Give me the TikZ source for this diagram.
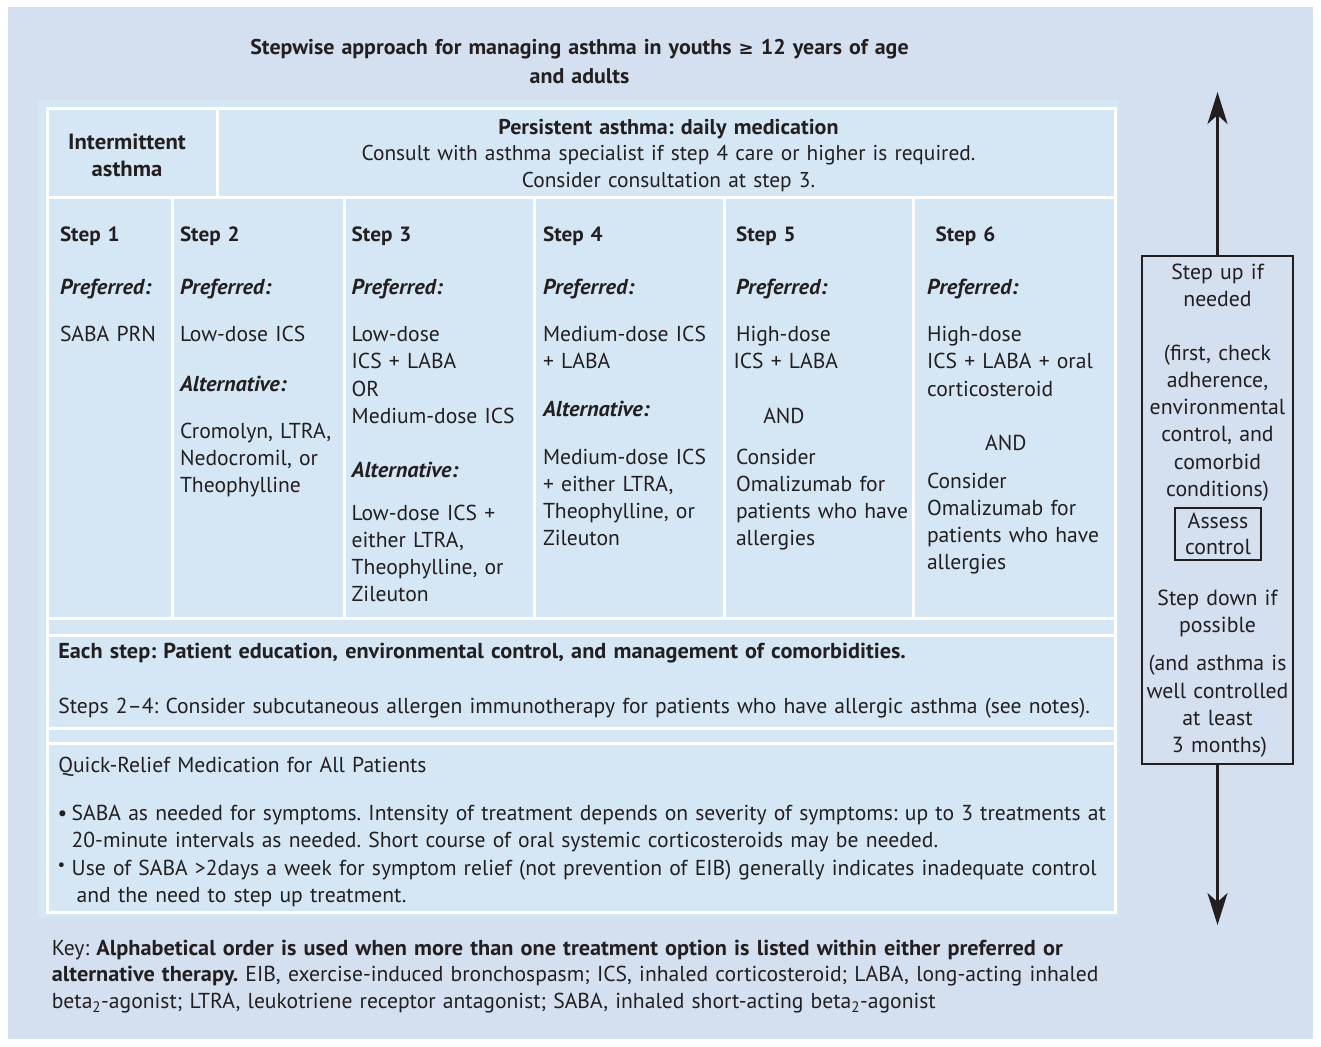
\documentclass[tikz,border=0pt]{standalone}
\usepackage{fontspec}
\setmainfont{PT Sans}[BoldFeatures={FakeStretch=1.03}, BoldItalicFeatures={FakeStretch=1.03}]
\newfontfamily\symfam{DejaVu Sans}
\usetikzlibrary{arrows.meta}
\frenchspacing

\definecolor{pagebg}{HTML}{D4DFF0}
\definecolor{panelbg}{HTML}{D5E6F5}
\definecolor{ink}{HTML}{231F20}

% font sizes (1pt = 1 pixel of the layout grid)
\newcommand\fbody{\fontsize{21.6}{27.2}\selectfont}
\newcommand\ftitle{\fontsize{21.3}{28.3}\selectfont\bfseries}
\newcommand\fhead{\fontsize{21.4}{26.8}\selectfont}
\newcommand\fstep{\fontsize{20.6}{27.2}\selectfont\bfseries}
\newcommand\fside{\fontsize{21.8}{27.3}\selectfont}

\begin{document}
\frenchspacing
\begin{tikzpicture}[x=1pt,y=-1pt,
  every node/.style={text=ink, inner sep=0pt, outer sep=0pt},
  lt/.style={anchor=base west, align=left, text width=400pt, font=\fbody},
  ct/.style={anchor=base, align=center, text width=#1, font=\fbody},
  ct/.default=300pt,
  gridline/.style={draw=white, line width=3pt},
  stephd/.style={lt, font=\fstep},
  pref/.style={lt, font=\fbody\bfseries\itshape},
  sidebox/.style={draw=ink, line width=2.6pt, fill=pagebg},
  arr/.style={draw=ink, line width=2.6pt, -{Stealth[length=32pt, width=20pt, inset=9pt]}},
]
\useasboundingbox (0,0) rectangle (1321,1046);
\fill[white] (0,0) rectangle (1321,1046);
\fill[pagebg] (8,7) rectangle (1313,1039);
\fill[panelbg] (38,100) rectangle (1119,918);

% ---- table grid ----
\draw[gridline] (47,109) rectangle (1115,912);
\draw[gridline] (47,197.5) -- (1115,197.5);
\draw[gridline] (217,109) -- (217,197.5);
\foreach \gx in {172.5,344,534,724.5,913.5}
  \draw[gridline] (\gx,197.5) -- (\gx,618);
\draw[gridline] (47,618) -- (1115,618);
\draw[gridline] (47,635) -- (1115,635);
\draw[gridline] (47,728) -- (1115,728);
\draw[gridline] (47,743.5) -- (1115,743.5);

% ---- title ----
\node[ct=800pt, font=\ftitle] (title) at (579.5,55)
  {Stepwise approach for managing asthma in youths {\symfam\bfseries\fontsize{18}{20}\selectfont ≥} 12 years of age\\and adults};

% ---- header row ----
\node[ct=170pt, font=\fontsize{22}{26.8}\selectfont\bfseries] (intermittent) at (127,149.3) {Intermittent\\asthma};
\node[ct=880pt, font=\fhead] (persistent) at (668.5,134)
  {\textbf{Persistent asthma: daily medication}\\
   Consult with asthma specialist if step 4 care or higher is required.\\
   Consider consultation at step 3.};

% ---- step headings ----
\node[stephd] (s1) at (60,241.7) {Step 1};
\node[stephd] (s2) at (180,241.7) {Step 2};
\node[stephd] (s3) at (351.7,241.7) {Step 3};
\node[stephd] (s4) at (543,241.7) {Step 4};
\node[stephd] (s5) at (736,241.7) {Step 5};
\node[stephd] (s6) at (935.6,241.7) {Step 6};

\node[pref] (p1) at (60,294) {Preferred:};
\node[pref] (p2) at (180,294) {Preferred:};
\node[pref] (p3) at (351.7,294) {Preferred:};
\node[pref] (p4) at (543,294) {Preferred:};
\node[pref] (p5) at (736,294) {Preferred:};
\node[pref] (p6) at (927,294) {Preferred:};

% step 1
\node[lt] (c1) at (60,341.7) {SABA PRN};
% step 2
\node[lt] (c2) at (180,341.7) {Low-dose ICS};
\node[pref] (a2) at (180,391.7) {Alternative:};
\node[lt] (d2) at (180,438.3) {Cromolyn, LTRA,\\Nedocromil, or\\Theophylline};
% step 3
\node[lt] (c3) at (351.7,341.7) {Low-dose\\ICS + LABA\\OR\\Medium-dose ICS};
\node[pref] (a3) at (351.7,477.7) {Alternative:};
\node[lt] (d3) at (351.7,520) {Low-dose ICS +\\either LTRA,\\Theophylline, or\\Zileuton};
% step 4
\node[lt] (c4) at (543,341.7) {Medium-dose ICS\\+ LABA};
\node[pref] (a4) at (543,416.7) {Alternative:};
\node[lt] (d4) at (543,464) {Medium-dose ICS\\+ either LTRA,\\Theophylline, or\\Zileuton};
% step 5
\node[lt] (c5) at (736,341.7) {High-dose\\\hspace*{-2.5pt}ICS + LABA};
\node[lt] (and5) at (763.3,423.3) {AND};
\node[lt] (d5) at (736,464) {Consider\\Omalizumab for\\patients who have\\allergies};
% step 6
\node[lt] (c6) at (927,341.7) {High-dose\\ICS + LABA + oral\\corticosteroid};
\node[lt] (and6) at (985.2,450) {AND};
\node[lt] (d6) at (927,488.3) {Consider\\Omalizumab for\\patients who have\\allergies};

% ---- lower rows ----
\node[lt, text width=1100pt] (each) at (58.3,658.3)
  {\textbf{Each step: Patient education, environmental control, and management of comorbidities.}};
\node[lt, text width=1100pt] (steps24) at (58.3,713.3)
  {Steps 2–4: Consider subcutaneous allergen immunotherapy for patients who have allergic asthma (see notes).};
\node[lt] (quick) at (58.3,772.5) {Quick-Relief Medication for All Patients};
\node[lt, text width=60pt] (b1) at (57.5,820) {•};
\node[lt, text width=1100pt] (q1) at (71.7,820)
  {SABA as needed for symptoms. Intensity of treatment depends on severity of symptoms: up to 3 treatments at\\
   20-minute intervals as needed. Short course of oral systemic corticosteroids may be needed.};
\node[lt, text width=60pt] (b2) at (57.5,875) {\raisebox{4.5pt}{\fontsize{17}{20}\selectfont •}};
\node[lt, text width=1100pt] (q2) at (71.7,875)
  {Use of SABA >2days a week for symptom relief (not prevention of EIB) generally indicates inadequate control\\
   \hspace*{5pt}and the need to step up treatment.};

% ---- key ----
\node[lt, text width=1200pt, font=\fontsize{21.6}{26.7}\selectfont] (key) at (51.8,955)
  {Key: \textbf{Alphabetical order is used when more than one treatment option is listed within either preferred or}\\
   \textbf{alternative therapy.} EIB, exercise-induced bronchospasm; ICS, inhaled corticosteroid; LABA, long-acting inhaled\\
   beta\textsubscript{2}-agonist; LTRA, leukotriene receptor antagonist; SABA, inhaled short-acting beta\textsubscript{2}-agonist};

% ---- step up / step down panel ----
\node[sidebox, minimum width=151pt, minimum height=508pt] (ctrl) at (1217.5,510) {};
\coordinate (uptip) at (1217.5,92);
\coordinate (downtip) at (1217.5,925);
\draw[arr] (ctrl.north) -- (uptip);
\draw[arr] (ctrl.south) -- (downtip);

\node[ct=150pt, font=\fside] (stepup) at (1217.5,279.3) {Step up if\\needed};
\node[ct=150pt, font=\fside] (check) at (1217.5,360)
  {(first, check\\adherence,\\environmental\\control, and\\comorbid\\conditions)};
\node[draw=ink, line width=1.1pt, minimum width=86pt, minimum height=52pt,
      align=center, font=\fontsize{21.8}{26.6}\selectfont] (assess) at (1218,534) {Assess\\control};
\node[ct=150pt, font=\fside] (stepdown) at (1217.5,605) {Step down if\\possible};
\node[ct=150pt, font=\fside] (wellctl) at (1217.5,670.7)
  {(and asthma is\\well controlled\\at least\\\hspace*{4pt}3 months)};
\end{tikzpicture}
\end{document}
